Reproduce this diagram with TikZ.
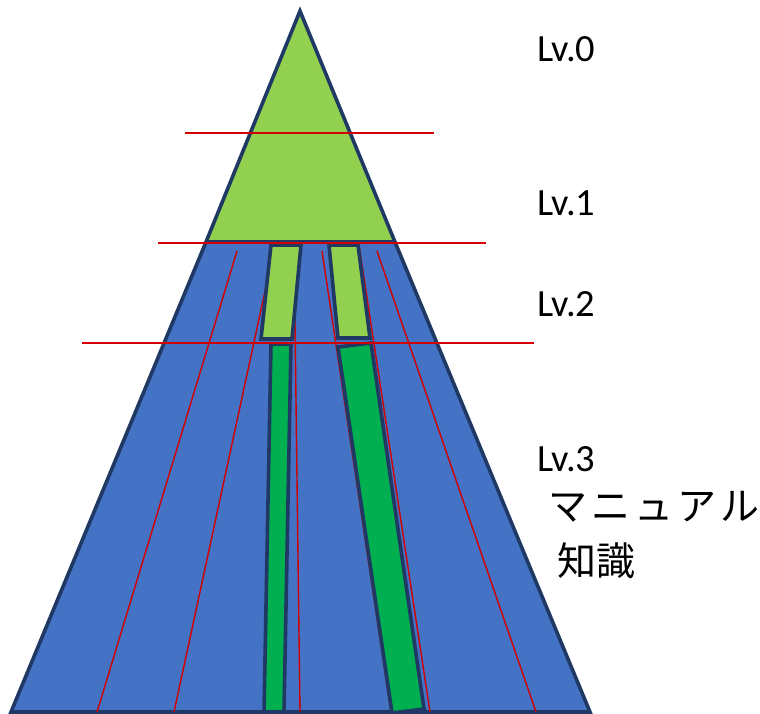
\documentclass[tikz,border=0pt]{standalone}
\usepackage{fontspec}
\setmainfont{Carlito}
\newfontfamily\jpfont{Noto Sans CJK JP}
\definecolor{lgreen}{RGB}{146,208,80}
\definecolor{dgreen}{RGB}{0,176,80}
\definecolor{pblue}{RGB}{68,114,196}
\definecolor{navy}{RGB}{31,56,100}
\definecolor{rline}{RGB}{210,0,0}
\begin{document}
\begin{tikzpicture}[x=1pt,y=-1pt,
  partbox/.style={draw=navy,line width=3.6pt,line join=miter},
  redline/.style={draw=rline,line width=1.4pt},
  lvtext/.style={inner sep=0pt,anchor=base west,font=\fontsize{38.5}{46}\selectfont},
  jptext/.style={inner sep=0pt,anchor=base west,font=\jpfont\fontsize{39}{46}\selectfont}]
\useasboundingbox (0,0) rectangle (760,714);
% lower blue part and upper green part of the triangle
\fill[pblue] (206,242) -- (395,242) -- (590,712) -- (11,712) -- cycle;
\draw[partbox] (206,242) -- (11,712) -- (590,712) -- (395,242);
% slanted red lines
\draw[redline] (237,251) -- (97,712);
\draw[redline] (275,245) -- (174,712);
\draw[redline] (294,245) -- (300,712);
\draw[redline] (322,251) -- (391,712);
\draw[redline] (359,245) -- (430,712);
\draw[redline] (377,251) -- (536,712);
% green top
\draw[partbox,fill=lgreen] (300,11) -- (395,242) -- (206,242) -- cycle;
% bars
\draw[partbox,fill=lgreen] (271,245) -- (301,245) -- (292,339) -- (261,339) -- cycle;
\draw[partbox,fill=lgreen] (329,245) -- (358,245) -- (370,338) -- (338,338) -- cycle;
\draw[partbox,fill=dgreen] (271,344) -- (291,344) -- (284,712) -- (264,712) -- cycle;
\draw[partbox,fill=dgreen] (338,347) -- (371,343) -- (424,709) -- (392,713) -- cycle;
% horizontal red lines
\draw[redline] (185,133) -- (434,133);
\draw[redline] (158,243) -- (486,243);
\draw[redline] (82,343) -- (534,343);
% labels
\node[lvtext] (l0) at (537,62) {Lv.0};
\node[lvtext] (l1) at (537,215) {Lv.1};
\node[lvtext] (l2) at (537,316) {Lv.2};
\node[lvtext] (l3) at (537,471) {Lv.3};
\node[jptext] (j1) at (548,520) {マ\kern4ptニ\kern4ptュ\kern4ptア\kern4ptル};
\node[jptext] (j2) at (557,575) {知識};
\end{tikzpicture}
\end{document}
